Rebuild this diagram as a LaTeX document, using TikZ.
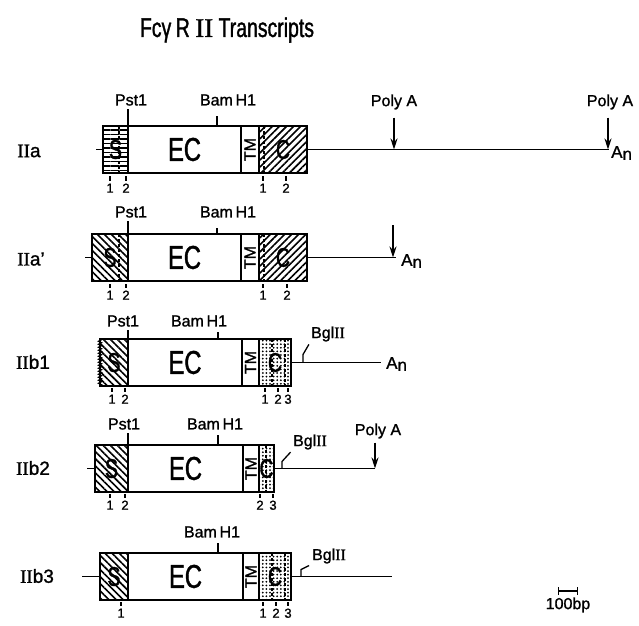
\documentclass[tikz,border=0pt]{standalone}
\usepackage{fontspec}
\setmainfont[FakeBold=1.2]{Liberation Sans}
\newfontfamily\romfont[FakeBold=1.2]{Liberation Serif}
\newfontfamily\narrowfont[FakeStretch=0.72,FakeBold=1.2]{Liberation Sans}
\usetikzlibrary{positioning,arrows.meta,patterns.meta,decorations.pathmorphing}
\begin{document}
\begin{tikzpicture}[x=1pt, y=-1pt,
  font=\fontsize{16}{16}\selectfont,
  >={Stealth[length=11pt,width=7pt]},
  reg/.style={draw, line width=1.8pt, inner sep=0pt, outer sep=0pt, anchor=north west, minimum height=47pt},
  sig/.style={reg, pattern={Lines[angle=-45,distance=5pt,line width=1.6pt]}, font=\narrowfont\fontsize{27}{27}\selectfont},
  sigh/.style={reg, pattern={Lines[angle=0,distance=4.5pt,line width=1.5pt]}, font=\narrowfont\fontsize{27}{27}\selectfont},
  ec/.style={reg, fill=white, font=\narrowfont\fontsize{33}{33}\selectfont},
  tm/.style={reg, fill=white, font=\fontsize{16}{16}\selectfont},
  cyt/.style={reg, pattern={Lines[angle=45,distance=5pt,line width=1.6pt]}, font=\narrowfont\fontsize{27}{27}\selectfont},
  cdot/.style={reg, pattern={Dots[radius=1pt,distance=3.6pt]}, font=\narrowfont\fontsize{27}{27}\selectfont},
  rna/.style={line width=1.7pt},
  cut/.style={line width=1.3pt},
  div/.style={line width=1.1pt, dash pattern=on 3pt off 2pt},
  pa/.style={->, line width=1.7pt},
  lab/.style={inner sep=1pt},
  num/.style={inner sep=0pt, font=\fontsize{13}{13}\selectfont},
  row/.style={inner sep=0pt, font=\fontsize{19}{19}\selectfont},
  an/.style={anchor=west, inner sep=0pt, font=\fontsize{17}{17}\selectfont}
]
\useasboundingbox (0,0) rectangle (639,625);
\node[font=\narrowfont\fontsize{27}{27}\selectfont] (title) at (227,30) {Fcγ\,R {\romfont II} Transcripts};
% IIa
\node[row] (r1) at (29,151) {{\romfont II}a};
\node[sigh, minimum width=25pt] (s1) at (103,126) {S};
\node[ec, minimum width=113pt] (e1) at (128,126) {EC};
\node[tm, minimum width=18pt] (t1) at (241,126) {\rotatebox{90}{TM}};
\node[cyt, minimum width=48pt] (c1) at (259,126) {C};
\draw[div] (119,126) -- (119,173);
\draw[div] (264,126) -- (264,173);
\draw[rna] (s1.west) -- ++(-7,0);
\node[an] (an1) at (611,153) {A\raisebox{-2pt}{n}};
\draw[rna, shorten >=2pt] (c1.east) -- (c1.east -| an1.west);
\node[lab] (pa1) at (394,102) {Poly A};
\draw[pa, shorten <=7pt] (pa1.south) -- (pa1.south |- c1.east);
\node[lab] (pa2) at (610,102) {Poly A};
\coordinate (pe2) at (608,149.5);
\draw[pa, shorten <=7pt] (pa2.south -| pe2) -- (pe2);
\node[lab] (ps1) at (131,100) {Pst1};
\draw[cut, shorten >=2pt] (e1.north west) -- (e1.north west |- ps1.south);
\node[lab] (bh1) at (228,100) {Bam\,H1};
\coordinate (bc1) at (217,126);
\draw[cut, shorten >=9pt] (bc1) -- (bc1 |- bh1.south);
\draw[cut] (110,176) -- (110,181) node[num, below=2pt] (n11) {1};
\draw[cut] (126,176) -- (126,181) node[num, below=2pt] (n12) {2};
\draw[cut] (263,176) -- (263,181) node[num, below=2pt] (n13) {1};
\draw[cut] (286,176) -- (286,181) node[num, below=2pt] (n14) {2};
% IIa'
\node[row] (r2) at (31,259) {{\romfont II}a'};
\node[sig, minimum width=36pt] (s2) at (92,234) {S};
\node[ec, minimum width=113pt] (e2) at (128,234) {EC};
\node[tm, minimum width=18pt] (t2) at (241,234) {\rotatebox{90}{TM}};
\node[cyt, minimum width=48pt] (c2) at (259,234) {C};
\draw[div] (119,234) -- (119,281);
\draw[div] (264,234) -- (264,281);
\draw[rna] (s2.west) -- ++(-7,0);
\node[an] (an2) at (401,261) {A\raisebox{-2pt}{n}};
\draw[rna, shorten >=5pt] (c2.east) -- (c2.east -| an2.west);
\coordinate (pb2) at (393,225);
\draw[pa] (pb2) -- (pb2 |- c2.east);
\node[lab] (ps2) at (131,212) {Pst1};
\draw[cut, shorten >=2pt] (e2.north west) -- (e2.north west |- ps2.south);
\node[lab] (bh2) at (228,212) {Bam\,H1};
\coordinate (bc2) at (217,234);
\draw[cut, shorten >=9pt] (bc2) -- (bc2 |- bh2.south);
\draw[cut] (110,284) -- (110,288) node[num, below=2pt] (n21) {1};
\draw[cut] (126,284) -- (126,288) node[num, below=2pt] (n22) {2};
\draw[cut] (263,284) -- (263,288) node[num, below=2pt] (n23) {1};
\draw[cut] (287,284) -- (287,288) node[num, below=2pt] (n24) {2};
% IIb1
\node[row] (r3) at (33,362) {{\romfont II}b1};
\node[sig, minimum width=28pt] (s3) at (100,339) {S};
\node[ec, minimum width=114pt] (e3) at (128,339) {EC};
\node[tm, minimum width=17pt] (t3) at (242,339) {\rotatebox{90}{TM}};
\node[cdot, minimum width=32pt] (c3) at (259,339) {C};
\draw[decorate, decoration={zigzag, segment length=3pt, amplitude=1.5pt}, line width=1.2pt] (s3.north west) -- (s3.south west);
\draw[div] (272,339) -- (272,386);
\draw[div] (285,339) -- (285,386);
\node[an] (an3) at (386,364) {A\raisebox{-2pt}{n}};
\draw[rna, shorten >=5pt] (c3.east) -- (c3.east -| an3.west);
\node[lab] (bg3) at (328,334) {Bgl{\romfont II}};
\coordinate (gc3) at (303,362.5);
\draw[cut, shorten >=2pt] (gc3) -- ++(0,-8) -- (bg3.south west);
\node[lab] (ps3) at (123,321) {Pst1};
\draw[cut, shorten >=2pt] (e3.north west) -- (e3.north west |- ps3.south);
\node[lab] (bh3) at (199,321) {Bam\,H1};
\coordinate (bc3) at (218,339);
\draw[cut, shorten >=4pt] (bc3) -- (bc3 |- bh3.south);
\draw[cut] (112,388) -- (112,392) node[num, below=2pt] (n31) {1};
\draw[cut] (125,388) -- (125,392) node[num, below=2pt] (n32) {2};
\draw[cut] (265,388) -- (265,392) node[num, below=2pt] (n33) {1};
\draw[cut] (278,388) -- (278,392) node[num, below=2pt] (n34) {2};
\draw[cut] (288,388) -- (288,392) node[num, below=2pt] (n35) {3};
% IIb2
\node[row] (r4) at (33,468) {{\romfont II}b2};
\node[sig, minimum width=33pt] (s4) at (95,445) {S};
\node[ec, minimum width=115pt] (e4) at (128,445) {EC};
\node[tm, minimum width=16pt] (t4) at (243,445) {\rotatebox{90}{TM}};
\node[cdot, minimum width=15pt] (c4) at (259,445) {C};
\draw[div] (266,445) -- (266,492);
\draw[rna] (s4.west) -- ++(-8,0);
\coordinate (pe4) at (375,468.5);
\draw[rna] (c4.east) -- (pe4);
\node[lab] (pa4) at (378,431) {Poly A};
\draw[pa, shorten <=3pt] (pa4.south -| pe4) -- (pe4);
\node[lab] (bg4) at (310,442) {Bgl{\romfont II}};
\coordinate (gc4) at (282,468.5);
\draw[cut, shorten >=2pt] (gc4) -- ++(0,-7) -- (bg4.south west);
\node[lab] (ps4) at (124,424) {Pst1};
\draw[cut, shorten >=2pt] (e4.north west) -- (e4.north west |- ps4.south);
\node[lab] (bh4) at (215,424) {Bam\,H1};
\coordinate (bc4) at (218,445);
\draw[cut, shorten >=4pt] (bc4) -- (bc4 |- bh4.south);
\draw[cut] (110,494) -- (110,498) node[num, below=2pt] (n41) {1};
\draw[cut] (125,494) -- (125,498) node[num, below=2pt] (n42) {2};
\draw[cut] (260,494) -- (260,498) node[num, below=2pt] (n43) {2};
\draw[cut] (273,494) -- (273,498) node[num, below=2pt] (n44) {3};
% IIb3
\node[row] (r5) at (37,576) {{\romfont II}b3};
\node[sig, minimum width=28pt] (s5) at (100,553) {S};
\node[ec, minimum width=115pt] (e5) at (128,553) {EC};
\node[tm, minimum width=16pt] (t5) at (243,553) {\rotatebox{90}{TM}};
\node[cdot, minimum width=32pt] (c5) at (259,553) {C};
\draw[div] (272,553) -- (272,600);
\draw[div] (285,553) -- (285,600);
\draw[rna] (s5.west) -- ++(-18,0);
\coordinate (ee5) at (392,576.5);
\draw[rna] (c5.east) -- (ee5);
\node[lab] (bg5) at (329,556) {Bgl{\romfont II}};
\coordinate (gc5) at (301,576.5);
\draw[cut, shorten >=2pt] (gc5) -- ++(0,-7) -- (bg5.south west);
\node[lab] (bh5) at (212,532) {Bam\,H1};
\coordinate (bc5) at (218,553);
\draw[cut, shorten >=4pt] (bc5) -- (bc5 |- bh5.south);
\draw[cut] (121,602) -- (121,606) node[num, below=2pt] (n51) {1};
\draw[cut] (263,602) -- (263,606) node[num, below=2pt] (n52) {1};
\draw[cut] (276,602) -- (276,606) node[num, below=2pt] (n53) {2};
\draw[cut] (288,602) -- (288,606) node[num, below=2pt] (n54) {3};
% scale
\node (scl) at (568,605) {100bp};
\draw[{Bar[width=8pt]}-{Bar[width=8pt]}, line width=1.3pt] (558,591) -- (578,591);
\end{tikzpicture}
\end{document}
